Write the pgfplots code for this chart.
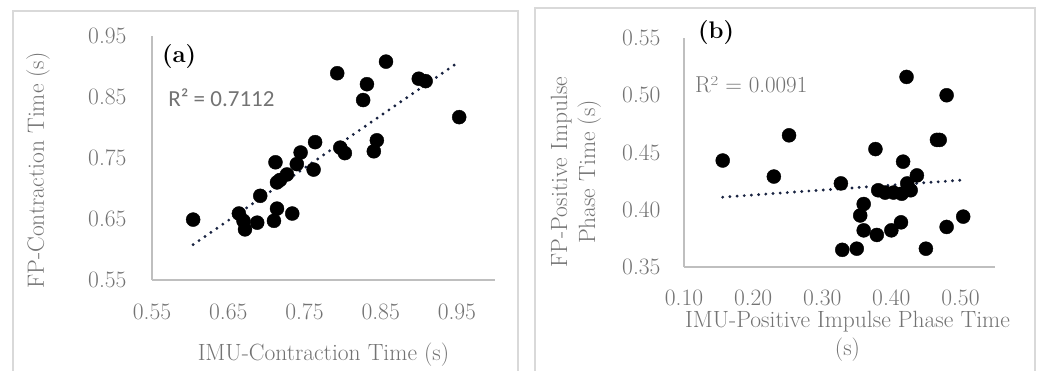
\documentclass[border=0pt]{standalone}
\usepackage{fontspec}
\usepackage{pgfplots}
\pgfplotsset{compat=1.18}
\newfontfamily\carlito{Carlito}
\definecolor{txtgray}{RGB}{115,115,115}
\definecolor{axgray}{RGB}{191,191,191}
\definecolor{framegray}{RGB}{217,217,217}
\definecolor{trend}{RGB}{25,35,65}
\begin{document}
\begin{tikzpicture}[x=1pt,y=1pt]
\path[use as bounding box] (0,0) rectangle (1049,370);
\draw[framegray, line width=1.5pt] (13,-10) -- (13,359) -- (518,359) -- (518,-10);
\draw[framegray, line width=1.5pt] (535,-10) -- (535,362) -- (1035,362) -- (1035,-10);
\pgfplotsset{
  myax/.style={
    scale only axis, clip=false,
    axis x line*=bottom, axis y line*=left,
    axis line style={axgray, line width=1.5pt},
    major tick length=0pt,
    font=\fontsize{23.5}{28}\selectfont,
    tick label style={txtgray},
    label style={txtgray},
    /pgf/number format/assume math mode=true,
    /pgf/number format/.cd, fixed, fixed zerofill, precision=2,
  },
}
% ---------- (a) ----------
\begin{axis}[myax,
  at={(152pt,90pt)}, anchor=south west,
  width=343pt, height=244pt,
  xmin=0.55, xmax=1.0, ymin=0.55, ymax=0.95,
  xtick={0.55,0.65,0.75,0.85,0.95},
  ytick={0.55,0.65,0.75,0.85,0.95},
  xticklabel style={yshift=-20pt},
  yticklabel style={xshift=-22pt},
  xlabel={IMU-Contraction Time (s)},
  ylabel={FP-Contraction Time (s)},
  xlabel style={at={(axis description cs:0.5,0)}, anchor=center, yshift=-75pt},
  ylabel style={at={(axis description cs:0,0.449)}, anchor=center, rotate=0, yshift=114pt},
]
\addplot[trend, line width=3.2pt, line cap=round, dash pattern=on 0pt off 7.2pt] coordinates {(0.604,0.608) (0.953,0.908)};
\addplot[only marks, mark=*, mark size=7pt, black, mark options={fill=black, draw=black}] coordinates {
(0.604,0.649) (0.793,0.889) (0.857,0.908) (0.832,0.871) (0.827,0.845)
(0.900,0.880) (0.909,0.876) (0.953,0.817) (0.764,0.776) (0.745,0.759)
(0.712,0.743) (0.740,0.740) (0.762,0.731) (0.727,0.723) (0.714,0.710)
(0.718,0.714) (0.692,0.688) (0.797,0.767) (0.803,0.758) (0.845,0.779)
(0.841,0.761) (0.664,0.659) (0.670,0.647) (0.672,0.633) (0.688,0.644)
(0.714,0.667) (0.710,0.647) (0.734,0.659)
};
\node[font=\fontsize{24}{28}\selectfont\bfseries, anchor=center] at (axis description cs:0.079,0.918) {(a)};
\node[font=\fontsize{23}{26}\selectfont\carlito, txtgray, anchor=west, inner sep=0pt] at (axis description cs:0.047,0.749) {R² = 0.7112};
\end{axis}
% ---------- (b) ----------
\begin{axis}[myax,
  at={(684pt,103pt)}, anchor=south west,
  width=311pt, height=229pt,
  xmin=0.10, xmax=0.55, ymin=0.35, ymax=0.55,
  xtick={0.1,0.2,0.3,0.4,0.5},
  ytick={0.35,0.40,0.45,0.50,0.55},
  xticklabel style={yshift=-19pt},
  yticklabel style={xshift=-20pt},
  xlabel={IMU-Positive Impulse Phase Time\\(s)},
  ylabel={FP-Positive Impulse\\Phase Time (s)},
  xlabel style={at={(axis description cs:0.5,0)}, anchor=center, align=center, yshift=-69pt, xshift=8pt},
  ylabel style={at={(axis description cs:0,0.415)}, anchor=center, align=center, rotate=0, yshift=108pt},
]
\addplot[trend, line width=3.2pt, line cap=round, dash pattern=on 0pt off 7.2pt] coordinates {(0.156,0.411) (0.504,0.426)};
\addplot[only marks, mark=*, mark size=7pt, black, mark options={fill=black, draw=black}] coordinates {
(0.156,0.443) (0.230,0.429) (0.252,0.465) (0.327,0.423) (0.377,0.453)
(0.422,0.516) (0.480,0.500) (0.466,0.461) (0.470,0.461) (0.417,0.442)
(0.437,0.430) (0.423,0.423) (0.381,0.417) (0.391,0.415) (0.403,0.415)
(0.415,0.414) (0.428,0.417) (0.360,0.405) (0.355,0.395) (0.360,0.382)
(0.379,0.378) (0.400,0.382) (0.414,0.389) (0.329,0.365) (0.350,0.366)
(0.450,0.366) (0.480,0.385) (0.504,0.394)
};
\node[font=\fontsize{24}{28}\selectfont\bfseries, anchor=center] at (axis description cs:0.103,1.022) {(b)};
\node[font=\fontsize{23}{26}\selectfont, txtgray, anchor=west, inner sep=0pt] at (axis description cs:0.035,0.795) {R² = 0.0091};
\end{axis}
\end{tikzpicture}
\end{document}
